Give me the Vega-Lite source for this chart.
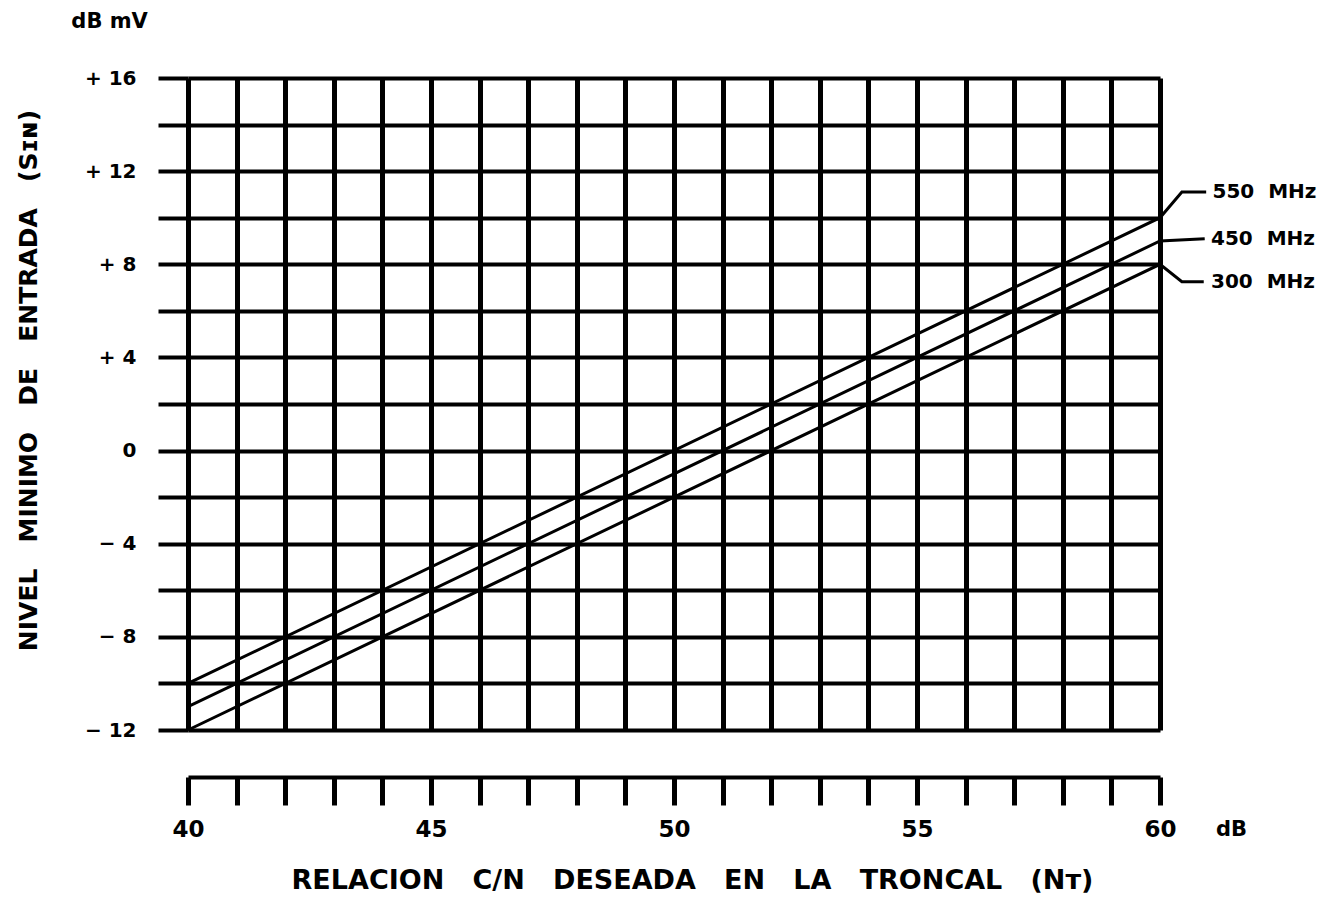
{
  "$schema": "https://vega.github.io/schema/vega-lite/v6.json",
  "width": 972,
  "height": 652,
  "autosize": {"type": "none"},
  "padding": {"left": 188, "top": 78, "right": 165, "bottom": 167},
  "background": "white",
  "config": {"view": {"stroke": null}, "font": "DejaVu Sans"},
  "datasets": {
    "curves": [
      {"serie": "550 MHz", "nt": 40, "sin": -10},
      {"serie": "550 MHz", "nt": 60, "sin": 10},
      {"serie": "550 MHz", "nt": 60.45, "sin": 11.1},
      {"serie": "550 MHz", "nt": 60.95, "sin": 11.1},
      {"serie": "450 MHz", "nt": 40, "sin": -11},
      {"serie": "450 MHz", "nt": 60, "sin": 9},
      {"serie": "450 MHz", "nt": 60.92, "sin": 9.1},
      {"serie": "300 MHz", "nt": 40, "sin": -12},
      {"serie": "300 MHz", "nt": 60, "sin": 8},
      {"serie": "300 MHz", "nt": 60.45, "sin": 7.25},
      {"serie": "300 MHz", "nt": 60.9, "sin": 7.25}
    ],
    "serieLabels": [
      {"t": "550\u00a0\u00a0MHz", "nt": 61.08, "sin": 11.1},
      {"t": "450\u00a0\u00a0MHz", "nt": 61.05, "sin": 9.1},
      {"t": "300\u00a0\u00a0MHz", "nt": 61.05, "sin": 7.25}
    ],
    "units": [
      {"t": "dB mV", "nt": 37.6, "sin": 18.4},
      {"t": "dB", "nt": 61.15, "sin": -16.3}
    ]
  },
  "layer": [
    {
      "data": {"name": "curves"},
      "mark": {"type": "line", "color": "black", "strokeWidth": 3},
      "encoding": {
        "x": {
          "field": "nt",
          "type": "quantitative",
          "scale": {"domain": [40, 60], "nice": false, "zero": false},
          "axis": {
            "title": "RELACION\u00a0\u00a0\u00a0C/N\u00a0\u00a0\u00a0DESEADA\u00a0\u00a0\u00a0EN\u00a0\u00a0\u00a0LA\u00a0\u00a0\u00a0TRONCAL\u00a0\u00a0\u00a0(Nᴛ)",
            "values": [40, 41, 42, 43, 44, 45, 46, 47, 48, 49, 50, 51, 52, 53, 54, 55, 56, 57, 58, 59, 60],
            "labelExpr": "datum.value % 5 == 0 ? datum.label : ''",
            "offset": 47,
            "domain": true,
            "domainColor": "black",
            "domainWidth": 4,
            "ticks": true,
            "tickColor": "black",
            "tickWidth": 5,
            "tickSize": 28,
            "grid": true,
            "gridColor": "black",
            "gridWidth": 5,
            "gridOpacity": 1,
            "labelFont": "DejaVu Sans",
            "labelFontWeight": "bold",
            "labelFontSize": 23,
            "labelColor": "black",
            "labelPadding": 13,
            "labelFlush": false,
            "labelOverlap": false,
            "titleFont": "DejaVu Sans",
            "titleFontSize": 27,
            "titleFontWeight": "bold",
            "titleColor": "black",
            "titlePadding": 26,
            "titleX": 504
          }
        },
        "y": {
          "field": "sin",
          "type": "quantitative",
          "scale": {"domain": [-12, 16], "nice": false, "zero": false},
          "axis": {
            "title": "NIVEL\u00a0\u00a0\u00a0MINIMO\u00a0\u00a0\u00a0DE\u00a0\u00a0\u00a0ENTRADA\u00a0\u00a0\u00a0(Sɪɴ)",
            "values": [-12, -10, -8, -6, -4, -2, 0, 2, 4, 6, 8, 10, 12, 14, 16],
            "labelExpr": "datum.value % 4 != 0 ? '' : (datum.value > 0 ? '+ ' + datum.value : (datum.value < 0 ? '− ' + (-datum.value) : '0'))",
            "domain": false,
            "ticks": true,
            "tickColor": "black",
            "tickWidth": 4,
            "tickSize": 30,
            "grid": true,
            "gridColor": "black",
            "gridWidth": 4,
            "gridOpacity": 1,
            "labelFont": "DejaVu Sans",
            "labelFontWeight": "bold",
            "labelFontSize": 20,
            "labelColor": "black",
            "labelPadding": 22,
            "labelOverlap": false,
            "titleFont": "DejaVu Sans",
            "titleFontSize": 25,
            "titleFontWeight": "bold",
            "titleColor": "black",
            "titleX": -147,
            "titleY": 302
          }
        },
        "detail": {"field": "serie"}
      }
    },
    {
      "data": {"name": "serieLabels"},
      "mark": {"type": "text", "align": "left", "baseline": "middle", "fontSize": 20, "fontWeight": "bold", "color": "black", "font": "DejaVu Sans"},
      "encoding": {
        "x": {"field": "nt", "type": "quantitative"},
        "y": {"field": "sin", "type": "quantitative"},
        "text": {"field": "t"}
      }
    },
    {
      "data": {"name": "units"},
      "mark": {"type": "text", "align": "left", "baseline": "middle", "fontSize": 21, "fontWeight": "bold", "color": "black", "font": "DejaVu Sans"},
      "encoding": {
        "x": {"field": "nt", "type": "quantitative"},
        "y": {"field": "sin", "type": "quantitative"},
        "text": {"field": "t"}
      }
    }
  ]
}
